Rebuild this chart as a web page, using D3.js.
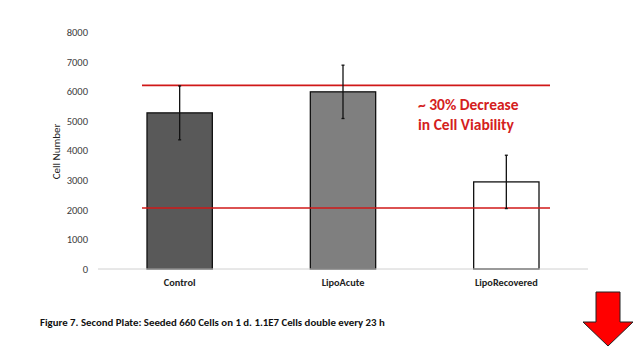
<!DOCTYPE html>
<html>
<head>
<meta charset="utf-8">
<script src="https://cdn.jsdelivr.net/npm/d3@7"></script>
<style>
  body { margin: 0; background: #fff; }
  text { font-family: Carlito, "Liberation Sans", "Open Sans", sans-serif; }
</style>
</head>
<body>
<svg width="638" height="359"></svg>
<script>
const categories = ["Control", "LipoAcute", "LipoRecovered"];
const cellCounts = [5270, 5980, 2940];
const errors = [910, 900, 900];
const barColors = ["#595959", "#7f7f7f", "#ffffff"];
const yTicks = [0, 1000, 2000, 3000, 4000, 5000, 6000, 7000, 8000];
const refLines = [6200, 2060];

const svg = d3.select("svg");
const margin = { top: 32, left: 98, right: 50 };
const plotBottom = 269;

const x = d3.scaleBand().domain(categories).range([98, 588]).paddingInner(0.6).paddingOuter(0.3);
const y = d3.scaleLinear().domain([0, 8000]).range([plotBottom, margin.top]);

// y tick labels (no axis line)
const yAxis = svg.append("g")
  .attr("transform", "translate(88,0)")
  .call(d3.axisLeft(y).tickValues(yTicks).tickSize(0).tickPadding(0).tickFormat(d3.format("d")));
yAxis.select(".domain").remove();
yAxis.selectAll("text").attr("font-size", 10.5).attr("fill", "#404040")
  .style("font-family", "Carlito, 'Liberation Sans', sans-serif");

svg.append("text")
  .attr("transform", `translate(60,${(y(0) + y(8000)) / 2 + 1}) rotate(-90)`)
  .attr("text-anchor", "middle")
  .attr("font-size", 11)
  .attr("fill", "#222")
  .text("Cell Number");

// bars
svg.selectAll(".bar")
  .data(categories)
  .enter()
  .append("rect")
  .attr("class", "bar")
  .attr("x", (d) => x(d))
  .attr("width", x.bandwidth())
  .attr("y", (d, i) => y(cellCounts[i]))
  .attr("height", (d, i) => y(0) - y(cellCounts[i]))
  .attr("fill", (d, i) => barColors[i])
  .attr("stroke", "#111")
  .attr("stroke-width", 1.3);

// baseline
svg.append("line")
  .attr("x1", 98).attr("x2", 588)
  .attr("y1", y(0)).attr("y2", y(0))
  .attr("stroke", "#d0d0d0");

// reference lines
svg.selectAll(".ref")
  .data(refLines)
  .enter()
  .append("line")
  .attr("class", "ref")
  .attr("x1", 142).attr("x2", 550)
  .attr("y1", (d) => y(d)).attr("y2", (d) => y(d))
  .attr("stroke", "#d01818")
  .attr("stroke-width", 1.6);

// error bars
const errG = svg.selectAll(".err")
  .data(categories)
  .enter()
  .append("g")
  .attr("class", "err");
errG.append("line")
  .attr("x1", (d) => x(d) + x.bandwidth() / 2)
  .attr("x2", (d) => x(d) + x.bandwidth() / 2)
  .attr("y1", (d, i) => y(cellCounts[i] + errors[i]))
  .attr("y2", (d, i) => y(cellCounts[i] - errors[i]))
  .attr("stroke", "#111").attr("stroke-width", 1.3);
errG.selectAll(".cap")
  .data((d, i) => [[d, cellCounts[i] + errors[i]], [d, cellCounts[i] - errors[i]]])
  .enter()
  .append("line")
  .attr("x1", (d) => x(d[0]) + x.bandwidth() / 2 - 1.5)
  .attr("x2", (d) => x(d[0]) + x.bandwidth() / 2 + 1.5)
  .attr("y1", (d) => y(d[1])).attr("y2", (d) => y(d[1]))
  .attr("stroke", "#111").attr("stroke-width", 1.3);

// category labels
svg.selectAll(".cat")
  .data(categories)
  .enter()
  .append("text")
  .attr("x", (d) => x(d) + x.bandwidth() / 2)
  .attr("y", 286)
  .attr("text-anchor", "middle")
  .attr("font-size", 10.3)
  .attr("font-weight", "bold")
  .attr("fill", "#222")
  .text((d) => d);

// annotation
const note = svg.append("text")
  .attr("x", 418).attr("y", 110)
  .attr("font-size", 15.5)
  .attr("font-weight", "bold")
  .attr("fill", "#d42020");
note.append("tspan").attr("x", 418).text("~ 30% Decrease");
note.append("tspan").attr("x", 418).attr("dy", 19.5).text("in Cell Viability");

// caption
svg.append("text")
  .attr("x", 40).attr("y", 326)
  .attr("font-size", 10.8)
  .attr("font-weight", "bold")
  .attr("fill", "#111")
  .text("Figure 7. Second Plate: Seeded 660 Cells on 1 d. 1.1E7 Cells double every 23 h");

// red arrow
svg.append("path")
  .attr("d", "M596,292 L620,292 L620,322 L633,322 L608,346 L583,322 L596,322 Z")
  .attr("fill", "#ff0000")
  .attr("stroke", "#222")
  .attr("stroke-width", 1);
</script>
</body>
</html>
